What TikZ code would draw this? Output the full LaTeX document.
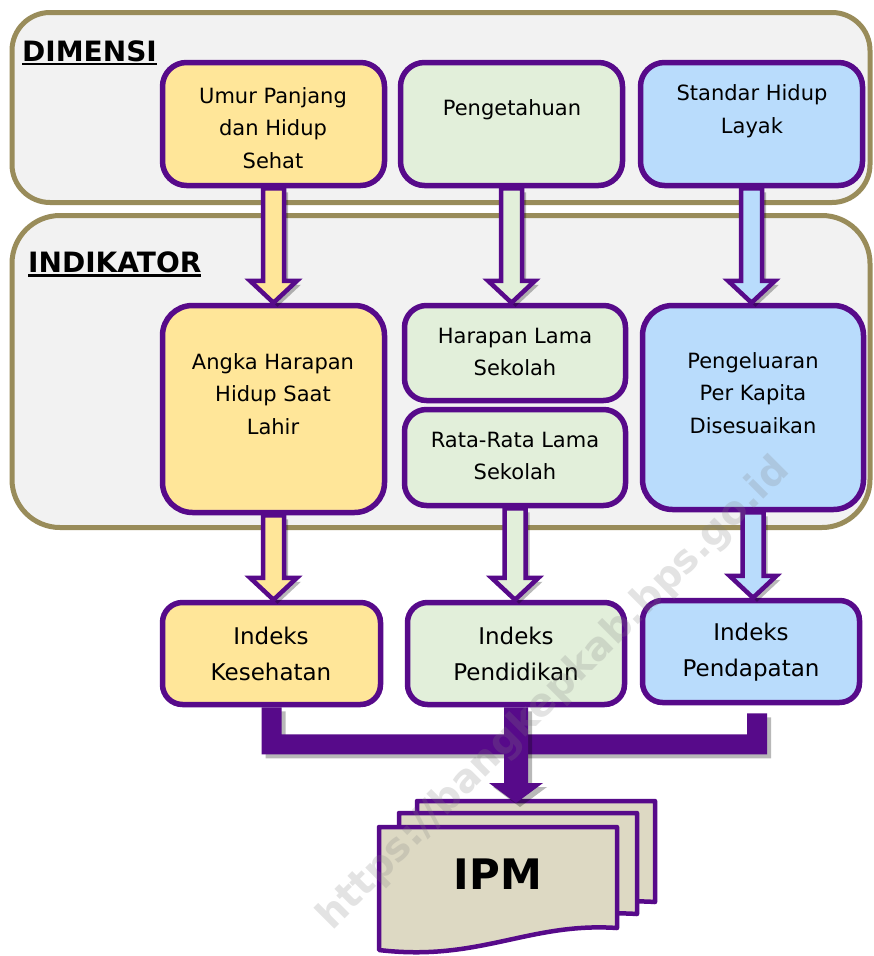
\documentclass[tikz,border=0pt]{standalone}
\usepackage{fontspec}
\setmainfont{DejaVu Sans}
\usetikzlibrary{shadows,calc}
\definecolor{pur}{HTML}{570A8A}
\definecolor{olivebd}{HTML}{998C5A}
\definecolor{panelbg}{HTML}{F2F2F2}
\definecolor{yel}{HTML}{FFE699}
\definecolor{grn}{HTML}{E2EFDA}
\definecolor{blu}{HTML}{B9DCFC}
\definecolor{docbg}{HTML}{DDD9C3}
\newcommand{\thickul}[1]{\leavevmode\vtop{\hbox{#1}\kern1.5pt\hrule height 2.6pt}}
\newcommand{\hollowarrow}[3]{%
  \draw[harrow, fill=#3] let \p1=(#1), \p2=(#2) in
   (\x1-10.5pt,\y1) -- (\x1-10.5pt,\y2+22pt) -- (\x1-23.5pt,\y2+22pt) -- (\x1,\y2)
   -- (\x1+23.5pt,\y2+22pt) -- (\x1+10.5pt,\y2+22pt) -- (\x1+10.5pt,\y1) -- cycle;}
\newcommand{\ipmdoc}[2]{%
  \draw[doc] (#1,#2+123) -- (#1,#2) -- (#1+238,#2) -- (#1+238,#2+101)
   .. controls (#1+150,#2+95) and (#1+100,#2+135) .. (#1,#2+123) -- cycle;}
\begin{document}
\begin{tikzpicture}[x=1pt,y=-1pt,
  panel/.style={draw=olivebd, line width=5pt, fill=panelbg, rounded corners=38pt, inner sep=0},
  box/.style={draw=pur, line width=5.5pt, rounded corners=24pt, inner sep=0},
  txt/.style={font=\fontsize{21}{32.5}\selectfont, align=center, inner sep=0},
  idx/.style={font=\fontsize{23}{36}\selectfont, align=center, inner sep=0},
  lab/.style={font=\fontsize{28}{30}\selectfont\bfseries, inner sep=0, anchor=base west},
  shad/.style={drop shadow={shadow xshift=4pt, shadow yshift=-4pt, opacity=0.28, fill=black}},
  harrow/.style={draw=pur, line width=4.5pt, line join=miter, shad},
  doc/.style={draw=pur, line width=4.5pt, fill=docbg, line join=round}]
\useasboundingbox (0,0) rectangle (873,956);
\fill[white] (0,0) rectangle (873,956);

% panels
\node[panel, minimum width=858pt, minimum height=190pt] (dimpanel) at (441,107.5) {};
\node[panel, rounded corners=48pt, minimum width=858pt, minimum height=312pt] (indpanel) at (441,371.5) {};
\node[lab] (dimlab) at (22,61) {\thickul{DIMENSI}};
\node[lab] (indlab) at (28,272) {\thickul{INDIKATOR}};

% dimension boxes
\node[box, fill=yel, minimum width=222pt, minimum height=123pt] (d1) at (273.5,124) {};
\node[box, fill=grn, minimum width=222pt, minimum height=123pt] (d2) at (511.5,124) {};
\node[box, fill=blu, minimum width=222pt, minimum height=123pt] (d3) at (751.5,124) {};
\node[txt] (d1t) at (273,128) {Umur Panjang\\dan Hidup\\Sehat};
\node[txt] (d2t) at (512,110) {Pengetahuan};
\node[txt] (d3t) at (752,111) {Standar Hidup\\Layak};

% indicator boxes
\node[box, fill=yel, rounded corners=30pt, minimum width=222pt, minimum height=207pt] (i1) at (273.5,409) {};
\node[box, fill=grn, rounded corners=22pt, minimum width=221pt, minimum height=95pt] (i2a) at (515,353) {};
\node[box, fill=grn, rounded corners=22pt, minimum width=221pt, minimum height=96pt] (i2b) at (515,457.5) {};
\node[box, fill=blu, rounded corners=30pt, minimum width=221pt, minimum height=204pt] (i3) at (753,407.5) {};
\node[txt] (i1t) at (273,394) {Angka Harapan\\Hidup Saat\\Lahir};
\node[txt] (i2at) at (515,352) {Harapan Lama\\Sekolah};
\node[txt] (i2bt) at (515,456) {Rata-Rata Lama\\Sekolah};
\node[txt] (i3t) at (753,393) {Pengeluaran\\Per Kapita\\Disesuaikan};

% index boxes
\node[box, fill=yel, rounded corners=20pt, minimum width=218pt, minimum height=102pt] (k1) at (271.5,653.5) {};
\node[box, fill=grn, rounded corners=20pt, minimum width=217pt, minimum height=102pt] (k2) at (516,653.5) {};
\node[box, fill=blu, rounded corners=20pt, minimum width=217pt, minimum height=102pt] (k3) at (751,651.5) {};
\node[idx] (k1t) at (271,654) {Indeks\\Kesehatan};
\node[idx] (k2t) at (516,654) {Indeks\\Pendidikan};
\node[idx] (k3t) at (751,652) {Indeks\\Pendapatan};

% hollow arrows
\hollowarrow{d1.south}{i1.north}{yel}
\hollowarrow{d2.south}{i2a.north}{grn}
\hollowarrow{d3.south}{i3.north}{blu}
\hollowarrow{i1.south}{k1.north}{yel}
\hollowarrow{i2b.south}{k2.north}{grn}
\hollowarrow{i3.south}{k3.north}{blu}

% IPM documents
\coordinate (ipmtop) at (516,803);
\ipmdoc{417}{801}
\ipmdoc{399}{813}
\ipmdoc{379}{827}
\node[font=\fontsize{42}{50}\selectfont\bfseries, inner sep=0] (ipm) at (498,874) {IPM};

% bus bars
\fill[pur, shad] let \p1=(k1.south), \p2=($(k3.south)+(6,8)$), \p3=($(k1.south)+(0,37)$) in
  (\x1-10pt,\y1) -- (\x1+10pt,\y1) -- (\x1+10pt,\y3+10pt) -- (\x2-10pt,\y3+10pt)
  -- (\x2-10pt,\y2) -- (\x2+10pt,\y2) -- (\x2+10pt,\y3-10pt) -- (\x1-10pt,\y3-10pt) -- cycle;
\fill[pur, shad] let \p1=(k2.south), \p2=(ipmtop) in
  (\x1-12pt,\y1) -- (\x1-12pt,\y2+20pt) -- (\x1-27pt,\y2+20pt) -- (\x1,\y2)
  -- (\x1+27pt,\y2+20pt) -- (\x1+12pt,\y2+20pt) -- (\x1+12pt,\y1) -- cycle;

% watermark
\node[rotate=45, text=gray, opacity=0.22, font=\fontsize{39}{39}\selectfont\bfseries, inner sep=0] (wm) at (554,694) {https://bangkepkab.bps.go.id};
\end{tikzpicture}
\end{document}
